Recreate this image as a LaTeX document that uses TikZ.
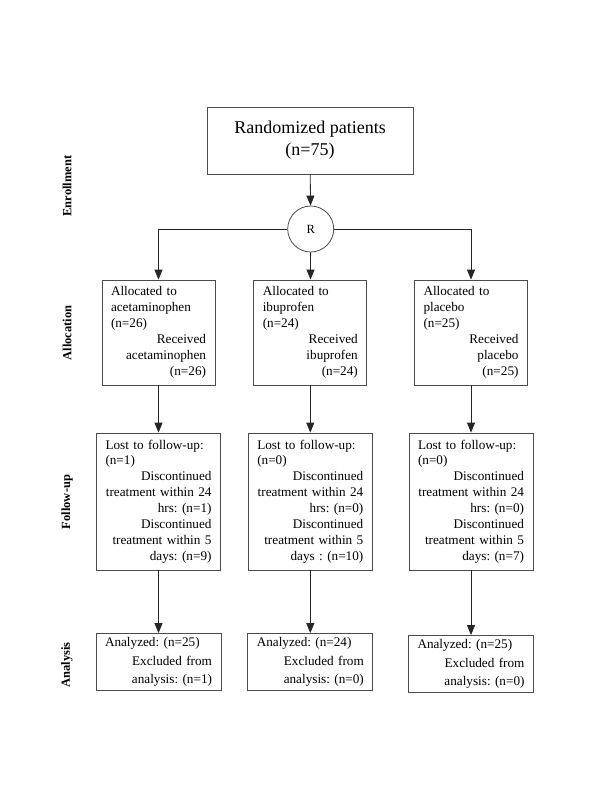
\documentclass[tikz,border=0pt]{standalone}
\usepackage{fontspec}
\setmainfont{Liberation Serif}
\usetikzlibrary{arrows.meta}

% left part flush left, right part flush right
\newcommand\splittext[2]{\frenchspacing\raggedright #1\par\raggedleft #2\par}

\begin{document}
\begin{tikzpicture}[x=1pt,y=-1pt,>={Triangle[width=8pt,length=10pt]}]

    % let's define some key values
    \def\xl{158.5}
    \def\xm{310.3}
    \def\xr{471}
    \def\xlabel{67}
    \def\yalloc{332.5}
    \def\yfollow{501.5}
    \def\yanal{662}

    % Styles
    \tikzstyle{box}=[draw=black!70, line width=0.8pt, inner xsep=9pt, inner ysep=2pt]
    \tikzstyle{allocbox}=[box, text width=95pt, minimum height=105pt, font=\fontsize{13.2}{16}\selectfont]
    \tikzstyle{followbox}=[box, text width=106pt, minimum height=137pt, font=\fontsize{13.2}{15.9}\selectfont]
    \tikzstyle{analbox}=[box, text width=107pt, minimum height=57pt, font=\fontsize{13.2}{18.5}\selectfont]
    \tikzstyle{phase}=[rotate=90, font=\fontsize{12.5}{14}\selectfont\bfseries]
    \tikzstyle{link}=[->, line width=0.8pt, black!85]

    \useasboundingbox (0,0) rectangle (600,800);

    % enrollment
    \node[box, minimum width=206pt, minimum height=67pt, align=center,
          font=\fontsize{18}{22}\selectfont] (randomized) at (310,140.5)
          {Randomized patients\\(n=75)};
    \node[draw=black!70, line width=0.8pt, circle, minimum size=46pt, inner sep=0pt,
          font=\fontsize{12.5}{14}\selectfont] (R) at (310.7,229) {R};

    % allocation
    \node[allocbox] (allocA) at (\xl,\yalloc)
          {\splittext{Allocated to\\acetaminophen\\(n=26)}{Received\\acetaminophen\\(n=26)}};
    \node[allocbox] (allocI) at (\xm,\yalloc)
          {\splittext{Allocated to\\ibuprofen\\(n=24)}{Received\\ibuprofen\\(n=24)}};
    \node[allocbox] (allocP) at (\xr,\yalloc)
          {\splittext{Allocated to\\placebo\\(n=25)}{Received\\placebo\\(n=25)}};

    % follow-up
    \node[followbox] (followA) at (\xl,\yfollow)
          {\splittext{Lost to follow-up:\\(n=1)}{Discontinued\\treatment within 24\\hrs: (n=1)\\Discontinued\\treatment within 5\\days: (n=9)}};
    \node[followbox] (followI) at (\xm,\yfollow)
          {\splittext{Lost to follow-up:\\(n=0)}{Discontinued\\treatment within 24\\hrs: (n=0)\\Discontinued\\treatment within 5\\days : (n=10)}};
    \node[followbox] (followP) at (\xr,\yfollow)
          {\splittext{Lost to follow-up:\\(n=0)}{Discontinued\\treatment within 24\\hrs: (n=0)\\Discontinued\\treatment within 5\\days: (n=7)}};

    % analysis
    \node[analbox] (analA) at (\xl,\yanal)
          {\splittext{Analyzed: (n=25)}{Excluded from\\analysis: (n=1)}};
    \node[analbox] (analI) at (\xm,\yanal)
          {\splittext{Analyzed: (n=24)}{Excluded from\\analysis: (n=0)}};
    \node[analbox] (analP) at (\xr,664)
          {\splittext{Analyzed: (n=25)}{Excluded from\\analysis: (n=0)}};

    % phase labels
    \node[phase] (enrollment) at (\xlabel,186) {Enrollment};
    \node[phase] (allocation) at (\xlabel,333) {Allocation};
    \node[phase] (followup) at (\xlabel,502) {Follow-up};
    \node[phase] (analysis) at (\xlabel,665) {Analysis};

    % connectors
    \draw[link] (randomized) -- (R);
    \draw[link] (R.west) -| (allocA.north);
    \draw[link] (R) -- (allocI);
    \draw[link] (R.east) -| (allocP.north);

    \draw[link] (allocA) -- (followA);
    \draw[link] (allocI) -- (followI);
    \draw[link] (allocP) -- (followP);

    \draw[link] (followA) -- (analA);
    \draw[link] (followI) -- (analI);
    \draw[link] (followP) -- (analP);

\end{tikzpicture}
\end{document}
